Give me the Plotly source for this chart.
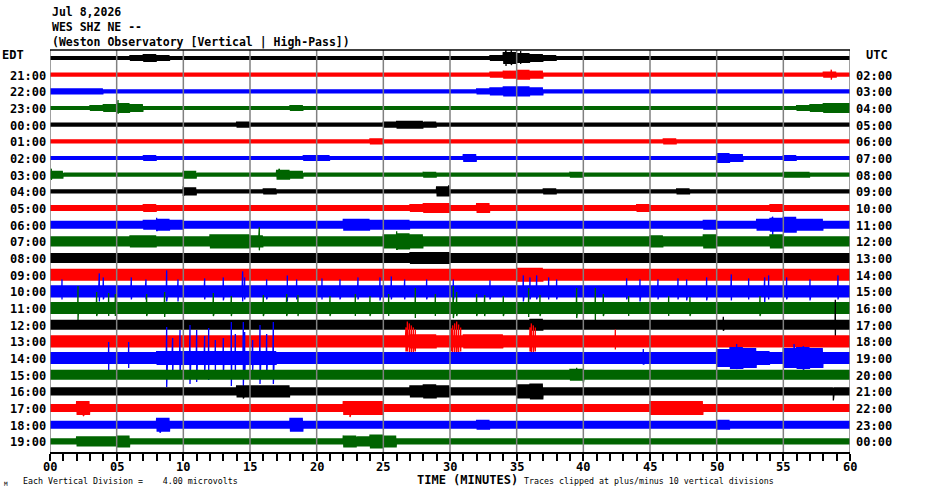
"""
Helicorder plot, WES SHZ NE, one hour per line
"""

import plotly.graph_objects as go

#%%
# Data
# ----------------------------

edt_labels = ["", "21:00", "22:00", "23:00", "00:00", "01:00", "02:00",
              "03:00", "04:00", "05:00", "06:00", "07:00", "08:00", "09:00",
              "10:00", "11:00", "12:00", "13:00", "14:00", "15:00", "16:00",
              "17:00", "18:00", "19:00"]
utc_labels = ["", "02:00", "03:00", "04:00", "05:00", "06:00", "07:00",
              "08:00", "09:00", "10:00", "11:00", "12:00", "13:00", "14:00",
              "15:00", "16:00", "17:00", "18:00", "19:00", "20:00", "21:00",
              "22:00", "23:00", "00:00"]
minute_ticks = [0, 5, 10, 15, 20, 25, 30, 35, 40, 45, 50, 55, 60]
minute_tick_text = ["00", "05", "10", "15", "20", "25", "30", "35", "40",
                    "45", "50", "55", "60"]

# half-width of each trace per minute (base-36 digit, in pixels)
envelopes = [
    "2222223432 2222222222 2222222222 2223654322 2222222222 2222222222",
    "2222222222 2222222222 2222222222 2223454222 2222222222 2222222232",
    "3333222222 2222222222 2222222222 2234554222 2222222222 2222222222",
    "2223454222 2222222232 2222222222 2222222222 2222222222 2222223455",
    "2222222222 2222322222 2222234432 2222222222 2222222222 2222222222",
    "2222222222 2222222222 2222322222 2222222222 2222223222 2222222222",
    "2222222322 2222222223 3222222222 2422222222 2222222222 5422232222",
    "4222222222 4222222542 2222222232 2222222223 2222222222 2222233222",
    "2222222222 4222223222 2222222225 2222222322 2222222322 2222222222",
    "3333333433 3333333333 3333333455 3353333333 3333433333 3333433333",
    "4444444565 4444444444 4466555444 4444444444 4444444445 4446786644",
    "5555556655 5577765555 5555578755 5555555555 5555565557 5555755555",
    "5555555555 5555555555 5555555666 5555555555 5555555555 5555555555",
    "6666666666 6666666666 6666666666 6666677666 6666666666 6666666666",
    "6666666666 6666666666 6666666666 6666666666 6666666666 6666666666",
    "6666666666 6666666666 6666666666 6666666666 6666666666 6666666666",
    "5555555555 5555555555 5555555555 5555556555 5555555555 5555555555",
    "6666666666 6666666666 6666666776 6777666666 6666666666 6666666666",
    "6666666677 7777777666 6666666666 6666666666 6666666666 9ba76aba66",
    "5555555555 5555555555 5555555555 5555555556 5555555555 5555555555",
    "4444444444 4444666644 4444444676 4444478444 4444444444 4444444444",
    "4474444444 4444444444 4477744444 4444444444 4444477774 4444444444",
    "4444444474 4444444474 4444444444 4454444444 4444444444 5444444444",
    "3355563333 3333333333 3365763333 3333333333 3333333333 3333333333",
]

# isolated spikes: (row, minute, up, down) in pixels
spikes = [
    (0, 34.2, 9, 8), (0, 34.6, 8, 7), (0, 35.3, 7, 6),
    (1, 58.6, 5, 5), (3, 5.1, 8, 5), (7, 0.1, 6, 5), (7, 17.2, 6, 5),
    (8, 10.0, 5, 4), (8, 29.9, 6, 5), (10, 8.0, 7, 6), (10, 54.2, 8, 10),
    (11, 15.7, 14, 9), (11, 26.0, 10, 8),
    (14, 0.9, 12, 8), (14, 3.7, 18, 10), (14, 4.0, 14, 8), (14, 6.1, 14, 8),
    (14, 7.2, 12, 8), (14, 8.75, 21, 10), (14, 9.6, 12, 10),
    (14, 11.6, 13, 8), (14, 13.0, 14, 9), (14, 14.45, 20, 10),
    (14, 14.6, 14, 8), (14, 16.25, 12, 8), (14, 17.8, 16, 10),
    (14, 18.5, 12, 8), (14, 20.4, 13, 8), (14, 21.75, 12, 8),
    (14, 23.1, 14, 8), (14, 24.75, 14, 9), (14, 25.6, 15, 8),
    (14, 26.6, 12, 8), (14, 28.25, 12, 8), (14, 30.25, 12, 9),
    (14, 33.0, 11, 8), (14, 35.5, 16, 10), (14, 36.0, 14, 8),
    (14, 36.5, 16, 8), (14, 37.4, 14, 8), (14, 38.0, 12, 8),
    (14, 43.25, 13, 8), (14, 44.25, 12, 10), (14, 45.6, 12, 8),
    (14, 47.1, 13, 8), (14, 47.75, 12, 9), (14, 49.25, 14, 9),
    (14, 51.1, 17, 9), (14, 52.4, 13, 8), (14, 53.6, 14, 12),
    (14, 53.9, 16, 8), (14, 55.25, 14, 8), (14, 57.0, 12, 9),
    (14, 59.1, 16, 8),
    (15, 2.1, 22, 12), (15, 3.5, 16, 8), (15, 4.4, 15, 8), (15, 4.9, 14, 8),
    (15, 7.25, 14, 8), (15, 8.6, 16, 9), (15, 12.25, 15, 8),
    (15, 13.6, 12, 8), (15, 16.0, 13, 8), (15, 17.75, 14, 8),
    (15, 18.6, 13, 8), (15, 21.0, 12, 8), (15, 22.9, 14, 8),
    (15, 24.0, 12, 8), (15, 25.4, 14, 8), (15, 27.4, 20, 10),
    (15, 28.9, 14, 8), (15, 30.25, 22, 10), (15, 30.5, 16, 8),
    (15, 32.0, 14, 8), (15, 32.6, 13, 8), (15, 34.0, 12, 8),
    (15, 35.9, 20, 9), (15, 36.75, 13, 8), (15, 39.5, 20, 10),
    (15, 40.9, 20, 12), (15, 41.5, 14, 8), (15, 43.4, 12, 8),
    (15, 46.4, 12, 8), (15, 48.0, 11, 8), (15, 53.25, 12, 8),
    (16, 50.5, 8, 6), (16, 58.9, 25, 12),
    (17, 26.7, 14, 10), (17, 26.8, 20, 10), (17, 26.95, 18, 13),
    (17, 27.1, 16, 12), (17, 27.25, 14, 11), (17, 27.4, 12, 10),
    (17, 30.1, 13, 10), (17, 30.2, 16, 12), (17, 30.35, 18, 13),
    (17, 30.5, 20, 14), (17, 30.65, 17, 12), (17, 30.8, 14, 10),
    (17, 36.0, 14, 10), (17, 36.1, 18, 12), (17, 36.25, 16, 12),
    (17, 36.4, 14, 10), (17, 42.4, 12, 8),
    (18, 4.4, 16, 12), (18, 5.9, 16, 10), (18, 8.75, 31, 29),
    (18, 9.2, 20, 20), (18, 9.75, 28, 20), (18, 10.5, 33, 26),
    (18, 11.0, 28, 24), (18, 11.6, 22, 18), (18, 11.9, 30, 22),
    (18, 12.4, 18, 16), (18, 13.0, 20, 18), (18, 13.6, 36, 28),
    (18, 13.9, 24, 20), (18, 14.5, 36, 28), (18, 14.6, 26, 20),
    (18, 15.2, 18, 14), (18, 15.75, 33, 26), (18, 16.25, 24, 20),
    (18, 16.75, 36, 26), (18, 44.5, 9, 6), (18, 51.5, 14, 10),
    (18, 55.8, 14, 10), (18, 56.5, 12, 12),
    (19, 39.5, 7, 4), (19, 40.0, 4, 8), (20, 14.5, 5, 7), (20, 58.75, 4, 9),
    (21, 2.5, 6, 8), (21, 22.5, 6, 9), (22, 8.25, 6, 8),
]

#%%
# Plot
# ----

trace_colors = ["black", "#ff0000", "#0000ff", "#006400"]
mono = "DejaVu Sans Mono"
samples_per_minute = 24
row_gap = 16.67
top_pad = 8.0
plot_height = 402


def paper_y(py):
    # page pixel row (reference picture) -> paper coordinate
    return (452 - py) / plot_height


def paper_x(px):
    return (px - 50) / 800


fig = go.Figure()
for r, env in enumerate(envelopes):
    amps = [int(c, 36) for c in env.replace(" ", "")]
    centre = top_pad + r * row_gap
    pts = []
    for k in range(60 * samples_per_minute + 1):
        t = k / samples_per_minute
        a = amps[min(int(t), 59)]
        sign = 1 if k % 2 == 0 else -1
        pts.append((t, centre - sign * a))
    for sr, m, up, down in spikes:
        if sr == r:
            pts.append((m, centre - up))
            pts.append((m + 0.001, centre + down))
    pts.sort()
    fig.add_trace(go.Scatter(x=[p[0] for p in pts], y=[p[1] for p in pts],
                             mode="lines",
                             line=dict(color=trace_colors[r % 4], width=1.3),
                             hoverinfo="skip", showlegend=False))

# five minute grid over the traces, black top border
for m in minute_ticks:
    fig.add_shape(type="line", xref="x", yref="paper", x0=m, x1=m, y0=0, y1=1,
                  line=dict(color="#808080", width=1.5), layer="above")
fig.add_shape(type="line", xref="x", yref="paper", x0=0, x1=60, y0=1, y1=1,
              line=dict(color="black", width=1.5), layer="above")

label_font = dict(family=mono, size=12, color="black", weight="bold")
for r in range(len(envelopes)):
    y = top_pad + r * row_gap + 1
    if edt_labels[r]:
        fig.add_annotation(text=edt_labels[r], xref="paper", yref="y",
                           x=-0.0025, y=y, xanchor="right", yanchor="middle",
                           showarrow=False, font=label_font)
    if utc_labels[r]:
        fig.add_annotation(text=utc_labels[r], xref="paper", yref="y",
                           x=1.005, y=y, xanchor="left", yanchor="middle",
                           showarrow=False, font=label_font)

fig.add_annotation(text="EDT", xref="paper", yref="y", x=paper_x(0), y=5,
                   xanchor="left", yanchor="middle", showarrow=False,
                   font=label_font)
fig.add_annotation(text="UTC", xref="paper", yref="y", x=paper_x(864), y=5,
                   xanchor="left", yanchor="middle", showarrow=False,
                   font=label_font)

# minute labels under the axis
for m, txt in zip(minute_ticks, minute_tick_text):
    fig.add_annotation(text=txt, xref="x", yref="paper", x=m,
                       y=paper_y(466.5), xanchor="center", yanchor="middle",
                       showarrow=False, font=label_font)

header = ["Jul 8,2026", "WES SHZ NE --",
          "(Weston Observatory [Vertical | High-Pass])"]
for i, line in enumerate(header):
    fig.add_annotation(text=line, xref="paper", yref="paper", x=0,
                       y=paper_y(12 + 15 * i),
                       xanchor="left", yanchor="middle", showarrow=False,
                       font=dict(family=mono, size=11.5, color="black",
                                 weight="bold"))

small_font = dict(family=mono, size=8.3, color="black")
fig.add_annotation(text="TIME (MINUTES)", xref="paper", yref="paper",
                   x=paper_x(415), y=paper_y(480.5),
                   xanchor="left", yanchor="middle", showarrow=False,
                   font=label_font)
fig.add_annotation(text="Each Vertical Division =\u00a0\u00a0\u00a0\u00a04.00 microvolts",
                   xref="paper", yref="paper", x=paper_x(21),
                   y=paper_y(481), xanchor="left",
                   yanchor="middle", showarrow=False, font=small_font)
fig.add_annotation(text="Traces clipped at plus/minus 10 vertical divisions",
                   xref="paper", yref="paper", x=paper_x(522),
                   y=paper_y(481), xanchor="left",
                   yanchor="middle", showarrow=False, font=small_font)
fig.add_annotation(text="M", xref="paper", yref="paper", x=paper_x(2),
                   y=paper_y(483), xanchor="left",
                   yanchor="middle", showarrow=False,
                   font=dict(family=mono, size=6, color="black"))

fig.update_xaxes(range=[0, 60], tickvals=minute_ticks, showticklabels=False,
                 ticks="outside", ticklen=7, tickcolor="black", tickwidth=1.5,
                 minor=dict(dtick=1, ticks="outside", ticklen=7,
                            tickcolor="black", tickwidth=1.5, showgrid=False),
                 showgrid=False, zeroline=False, showline=True,
                 linecolor="black", linewidth=1.5)
fig.update_yaxes(range=[plot_height, 0], showticklabels=False, ticks="",
                 showgrid=False, zeroline=False, showline=False)
fig.update_layout(width=930, height=494, plot_bgcolor="white",
                  paper_bgcolor="white",
                  margin=dict(l=50, r=80, t=50, b=42))

# drop the default page margin so the figure sits at the window corner
fig.write_html("out.html", config={"displayModeBar": False},
               post_script="document.body.style.margin = '0px';")
